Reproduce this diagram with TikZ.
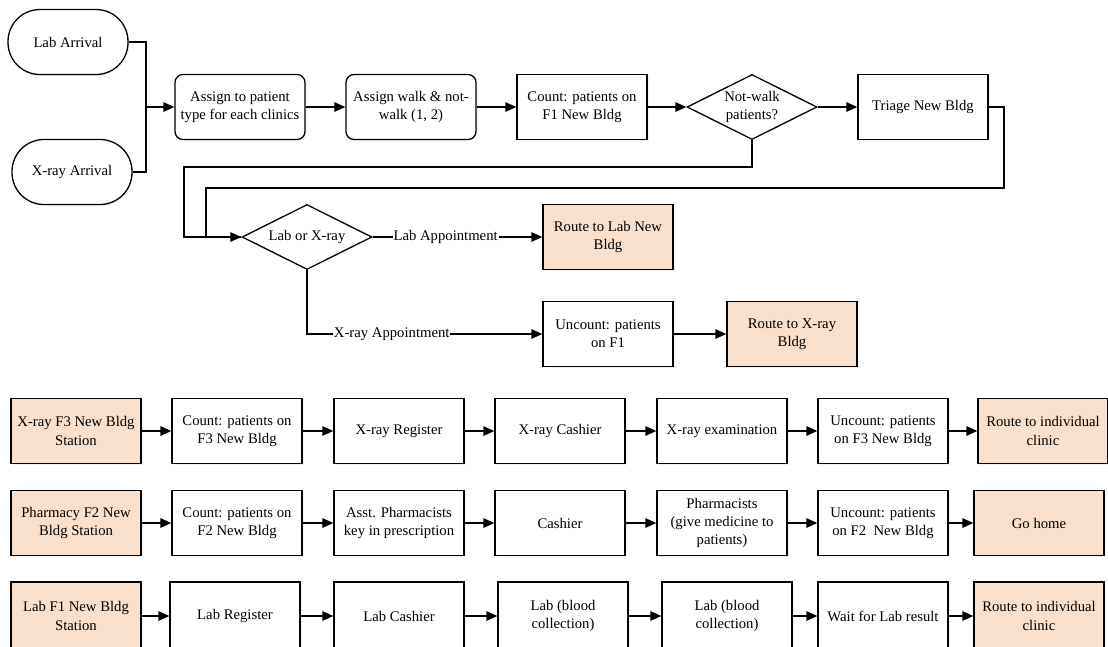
\documentclass[tikz,border=0pt]{standalone}
\usepackage{fontspec}
\setmainfont{Liberation Serif}
\usetikzlibrary{arrows.meta,shapes.geometric,shadows}
\definecolor{peach}{RGB}{248,224,205}
\begin{document}
\begin{tikzpicture}[x=1pt,y=-1pt,
  font=\fontsize{14.7}{18.3}\selectfont,
  line width=1.3pt,
  base/.style={draw, line width=1.3pt, align=center, minimum width=130pt,
    minimum height=65pt, inner sep=2pt, fill=white,
    drop shadow={opacity=0.10, shadow xshift=1.5pt, shadow yshift=-1.5pt}},
  proc/.style={base},
  station/.style={base, fill=peach},
  softbox/.style={base, rounded corners=8pt},
  terminal/.style={base, rounded corners=32pt, minimum width=120pt},
  decision/.style={diamond, draw, fill=white, minimum width=130pt,
    minimum height=65pt, inner sep=0pt},
  flow/.style={-{Triangle[length=11pt,width=9.5pt]}},
  tag/.style={fill=white, inner sep=1pt}
]
\useasboundingbox (0,0) rectangle (1108,646);
\fill[white] (0,0) rectangle (1108,646);

% arrivals and patient assignment
\node[terminal] (labarr) at (68,42) {Lab Arrival};
\node[terminal] (xarr) at (72,172) {X-ray Arrival};
\node[softbox] (assign) at (240,107) {Assign to patient\\type for each clinics};
\node[softbox] (walk) at (411,107) {Assign walk \& not-\\walk (1, 2)};
\node[proc] (cnt1) at (582,107) {Count: patients on\\F1 New Bldg};
\node[decision, label={[align=center]center:Not-walk\\patients?}] (notwalk) at (752,107) {};
\node[proc] (triage) at (923,107) {Triage New Bldg};

\coordinate (mj) at (146,107);
\draw (labarr.east) -| (mj);
\draw (xarr.east) -| (mj);
\draw[flow] (mj) -- (assign.west);
\draw[flow] (assign) -- (walk);
\draw[flow] (walk) -- (cnt1);
\draw[flow] (cnt1) -- (notwalk.west);
\draw[flow] (notwalk.east) -- (triage);

% appointment split
\node[decision, label={center:Lab or X-ray}] (lx) at (307,237) {};
\node[station] (rlab) at (608,237) {Route to Lab New\\Bldg};
\node[proc] (unc) at (608,334) {Uncount: patients\\on F1};
\node[station] (rxray) at (792,334) {Route to X-ray\\Bldg};

\coordinate (a1) at (184,167);
\coordinate (a2) at (206,188);
\coordinate (t1) at (1004,188);
\draw[flow] (notwalk.south) |- (a1) |- (lx.west);
\draw (triage.east) -| (t1) -- (a2) |- (lx.west);
\draw[flow] (lx.east) -- node[tag, pos=0.43] {Lab Appointment} (rlab.west);
\draw[flow] (lx.south) |- node[tag, pos=0.68] {X-ray Appointment} (unc.west);
\draw[flow] (unc) -- (rxray);

% X-ray station, floor 3
\node[station] (x1) at (76,431) {X-ray F3 New Bldg\\Station};
\node[proc] (x2) at (237,431) {Count: patients on\\F3 New Bldg};
\node[proc] (x3) at (399,431) {X-ray Register};
\node[proc] (x4) at (560,431) {X-ray Cashier};
\node[proc] (x5) at (722,431) {X-ray examination};
\node[proc] (x6) at (883,431) {Uncount: patients\\on F3 New Bldg};
\node[station] (x7) at (1043,431) {Route to individual\\clinic};
\foreach \a/\b in {x1/x2,x2/x3,x3/x4,x4/x5,x5/x6,x6/x7}
  \draw[flow] (\a) -- (\b);

% pharmacy station, floor 2
\node[station] (p1) at (76,523) {Pharmacy F2 New\\Bldg Station};
\node[proc] (p2) at (237,523) {Count: patients on\\F2 New Bldg};
\node[proc] (p3) at (399,523) {Asst. Pharmacists\\key in prescription};
\node[proc] (p4) at (560,523) {Cashier};
\node[proc] (p5) at (722,523) {Pharmacists\\(give medicine to\\patients)};
\node[proc] (p6) at (883,523) {Uncount: patients\\on F2\ \ New Bldg};
\node[station] (p7) at (1039,523) {Go home};
\foreach \a/\b in {p1/p2,p2/p3,p3/p4,p4/p5,p5/p6,p6/p7}
  \draw[flow] (\a) -- (\b);

% lab station, floor 1
\begin{scope}[base/.append style={minimum height=68pt}]
\node[station] (l1) at (76,616) {Lab F1 New Bldg\\Station};
\node[proc] (l2) at (235,616) {Lab Register};
\node[proc] (l3) at (399,616) {Lab Cashier};
\node[proc] (l4) at (563,616) {Lab (blood\\collection)};
\node[proc] (l5) at (727,616) {Lab (blood\\collection)};
\node[proc] (l6) at (883,616) {Wait for Lab result};
\node[station] (l7) at (1039,616) {Route to individual\\clinic};
\end{scope}
\foreach \a/\b in {l1/l2,l2/l3,l3/l4,l4/l5,l5/l6,l6/l7}
  \draw[flow] (\a) -- (\b);
\end{tikzpicture}
\end{document}
